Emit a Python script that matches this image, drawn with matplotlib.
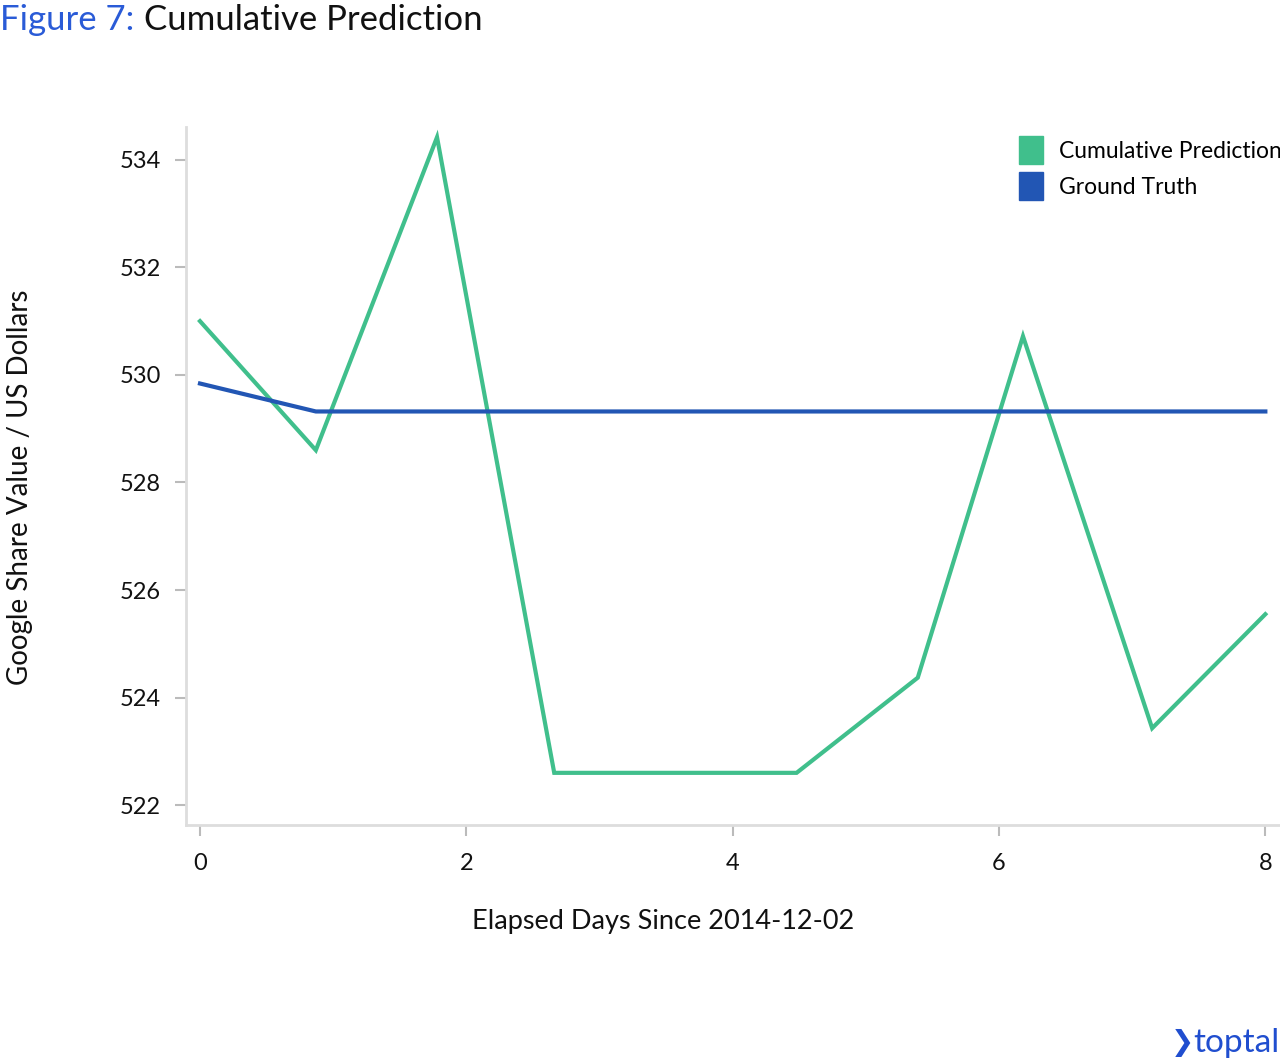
import matplotlib
matplotlib.use("Agg")

import matplotlib.pyplot as plt
from matplotlib.patches import Patch

plt.rcParams["font.family"] = ["Lato", "DejaVu Sans"]

# data
pred_days = [0, 0.87, 1.78, 2.66, 4.48, 5.39, 6.18, 7.15, 8.0]
pred_values = [531.0, 528.6, 534.42, 522.6, 522.6, 524.37, 530.72, 523.43, 525.55]
truth_days = [0, 0.87, 8.0]
truth_values = [529.84, 529.32, 529.32]
x_ticks = [0, 2, 4, 6, 8]
y_ticks = [522, 524, 526, 528, 530, 532, 534]

GREEN = "#40BF8C"
BLUE = "#2256B4"
TITLE_BLUE = "#2A5BD7"
GRID_GRAY = "#DDDDDD"

fig = plt.figure(figsize=(12.8, 10.6), dpi=100)
ax = fig.add_axes([186 / 1280, 1 - 825 / 1060, 1 - 186 / 1280, (825 - 127) / 1060])

ax.plot(pred_days, pred_values, color=GREEN, lw=3, solid_joinstyle="miter")
ax.plot(truth_days, truth_values, color=BLUE, lw=3)

ax.set_xlim(-0.105, 8.11)
ax.set_ylim(521.63, 534.61)
ax.set_xticks(x_ticks)
ax.set_yticks(y_ticks)
ax.tick_params(axis="both", colors="#BBBBBB", labelcolor="#111111",
               labelsize=17, length=8, width=1.5)
ax.tick_params(axis="x", pad=12)
ax.tick_params(axis="y", pad=10)

for side in ["top", "right"]:
    ax.spines[side].set_visible(False)
for side in ["left", "bottom"]:
    ax.spines[side].set_color(GRID_GRAY)
    ax.spines[side].set_linewidth(2)

handles = [Patch(color=GREEN, label="Cumulative Prediction"),
           Patch(color=BLUE, label="Ground Truth")]
leg = ax.legend(handles=handles, loc="upper right",
                bbox_to_anchor=(1.0 + 11 / 1094, 1.0),
                frameon=False, fontsize=16.5, handlelength=1.05, handleheight=1.5,
                handletextpad=0.7, labelspacing=0.35, borderaxespad=0.0)
leg.set_clip_on(False)

fig.text(663 / 1280, 1 - 922 / 1060, "Elapsed Days Since 2014-12-02",
         ha="center", va="center", fontsize=19.5, color="#111111")
fig.text(20 / 1280, 1 - 487 / 1060, "Google Share Value / US Dollars",
         ha="center", va="center", rotation=90, fontsize=20, color="#111111")

# title in two colours
t1 = fig.text(0.0, 1 - 30 / 1060, "Figure 7:", color=TITLE_BLUE,
              fontsize=25, va="baseline", ha="left")
fig.canvas.draw()
bb = t1.get_window_extent()
fig.text((bb.x1 + 10) / 1280, 1 - 30 / 1060, "Cumulative Prediction",
         color="#111111", fontsize=25, va="baseline", ha="left")

# logo text
fig.text(1.0, 1 - 1043 / 1060, "toptal", color="#204ECF", fontsize=24,
         ha="right", va="center")
fig.text(1182 / 1280, 1 - 1043 / 1060, "\u276F", color="#204ECF", fontsize=20,
         ha="center", va="center", family=["DejaVu Sans"], fontweight="bold")

fig.savefig("out.png", dpi=100)
plt.close(fig)
